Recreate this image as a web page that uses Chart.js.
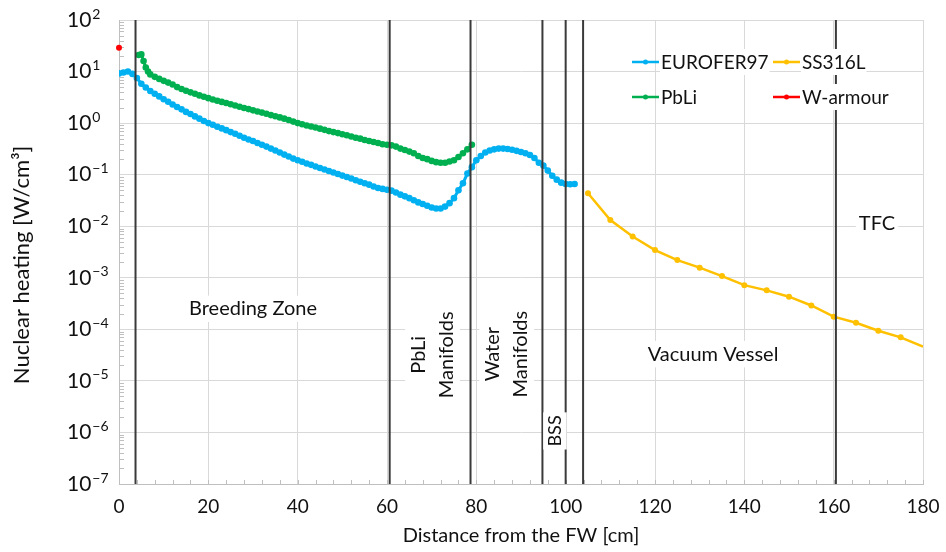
<!DOCTYPE html>
<html>
<head>
<meta charset="utf-8">
<script src="https://cdn.jsdelivr.net/npm/chart.js@4.4.1/dist/chart.umd.min.js"></script>
<style>
  html, body { margin: 0; padding: 0; background: #fff; }
  #wrap { width: 946px; height: 552px; }
</style>
</head>
<body>
<div id="wrap"><canvas id="heatChart"></canvas></div>
<script>
// EUROFER97 (distance [cm], heating [W/cm3])
const eurX = [
  0, 1, 2, 3, 4, 5, 6, 7, 8, 9,
  10, 11, 12, 13, 14, 15, 16, 17, 18, 19,
  20, 21, 22, 23, 24, 25, 26, 27, 28, 29,
  30, 31, 32, 33, 34, 35, 36, 37, 38, 39,
  40, 41, 42, 43, 44, 45, 46, 47, 48, 49,
  50, 51, 52, 53, 54, 55, 56, 57, 58, 59,
  60, 61, 62, 63, 64, 65, 66, 67, 68, 69,
  70, 71, 72, 73, 74, 75, 76, 77, 78, 79,
  80, 81, 82, 83, 84, 85, 86, 87, 88, 89,
  90, 91, 92, 93, 94, 95, 96, 97, 98, 99,
  100, 101, 102
];
const eurY = [
  9.2, 9.6, 10, 9.0, 7.5, 5.8, 4.9, 4.2, 3.7, 3.3,
  2.9, 2.6, 2.3, 2.05, 1.85, 1.65, 1.5, 1.35, 1.22, 1.1,
  1.0, 0.93, 0.85, 0.79, 0.73, 0.67, 0.62, 0.57, 0.52, 0.48,
  0.45, 0.41, 0.38, 0.35, 0.32, 0.295, 0.27, 0.245, 0.225, 0.205,
  0.19, 0.178, 0.165, 0.155, 0.144, 0.135, 0.126, 0.118, 0.11, 0.103,
  0.096, 0.09, 0.084, 0.078, 0.073, 0.068, 0.064, 0.059, 0.055, 0.053,
  0.051, 0.049, 0.045, 0.041, 0.038, 0.035, 0.032, 0.029, 0.027, 0.025,
  0.023, 0.022, 0.022, 0.024, 0.028, 0.035, 0.05, 0.068, 0.105, 0.14,
  0.19, 0.23, 0.27, 0.295, 0.31, 0.32, 0.32, 0.315, 0.305, 0.29,
  0.275, 0.26, 0.24, 0.21, 0.17, 0.15, 0.12, 0.095, 0.08, 0.07,
  0.066, 0.065, 0.066
];

// PbLi
const pbX = [
  4.4, 5, 5.5, 6, 6.5, 7, 8, 9, 10,
  11, 12, 13, 14, 15, 16, 17, 18, 19, 20,
  21, 22, 23, 24, 25, 26, 27, 28, 29, 30,
  31, 32, 33, 34, 35, 36, 37, 38, 39, 40,
  41, 42, 43, 44, 45, 46, 47, 48, 49, 50,
  51, 52, 53, 54, 55, 56, 57, 58, 59, 60,
  61, 62, 63, 64, 65, 66, 67, 68, 69, 70,
  71, 72, 73, 74, 75, 76, 77, 78, 79
];
const pbY = [
  20.9, 21.5, 16, 12, 10, 8.8, 7.9, 7.2, 6.6,
  6.1, 5.6, 5.0, 4.6, 4.25, 3.95, 3.7, 3.45, 3.25, 3.05,
  2.88, 2.72, 2.58, 2.45, 2.32, 2.2, 2.08, 1.97, 1.87, 1.77,
  1.68, 1.6, 1.52, 1.43, 1.36, 1.29, 1.22, 1.15, 1.07, 1.0,
  0.95, 0.9, 0.86, 0.82, 0.78, 0.74, 0.7, 0.67, 0.64, 0.61,
  0.58, 0.55, 0.52, 0.5, 0.47, 0.45, 0.43, 0.41, 0.39, 0.38,
  0.37, 0.35, 0.32, 0.3, 0.28, 0.26, 0.23, 0.21, 0.2, 0.185,
  0.175, 0.17, 0.17, 0.18, 0.19, 0.22, 0.26, 0.31, 0.38
];

// SS316L
const ssX = [105, 110, 115, 120, 125, 130, 135, 140, 145, 150, 155, 160, 165, 170, 175, 180];
const ssY = [0.0435, 0.0132, 0.0063, 0.00345, 0.0022, 0.00157, 0.00108, 0.00072,
             0.00057, 0.00043, 0.00029, 0.000176, 0.000134, 0.000094, 0.00007, 0.000046];

// W-armour
const wX = [0];
const wY = [29];

// axis ticks
const xTicks = [0, 20, 40, 60, 80, 100, 120, 140, 160, 180];
const yExponents = [2, 1, 0, -1, -2, -3, -4, -5, -6, -7];

// region boundaries [cm]
const boundaries = [3.7, 60.6, 78.7, 94.8, 100, 103.9, 160.5];

const FONT = "Lato, 'Open Sans', sans-serif";
const TEXT = '#111';

const zip = (xs, ys) => xs.map((x, i) => ({ x: x, y: ys[i] }));

// region labels: data position, rotation
const regionLabels = [
  { lines: ['Breeding Zone'], x: 30, y: 2.5e-4, rot: false, size: 20 },
  { lines: ['PbLi', 'Manifolds'], x: 70.2, y: 3.2e-5, rot: true, size: 20 },
  { lines: ['Water', 'Manifolds'], x: 86.8, y: 3.3e-5, rot: true, size: 20 },
  { lines: ['BSS'], x: 97.6, y: 1.07e-6, rot: true, size: 18 },
  { lines: ['Vacuum Vessel'], x: 133, y: 3.3e-5, rot: false, size: 20 },
  { lines: ['TFC'], x: 169.7, y: 0.0115, rot: false, size: 20 }
];

const decorations = {
  id: 'decorations',
  beforeDatasetsDraw(chart) {
    const { ctx, chartArea: a, scales: { x, y } } = chart;
    ctx.save();
    ctx.strokeStyle = '#bfbfbf';
    ctx.lineWidth = 1;
    // minor log ticks on the y axis
    for (let e = -7; e < 2; e++) {
      for (let m = 2; m <= 9; m++) {
        const py = Math.round(y.getPixelForValue(m * Math.pow(10, e))) + 0.5;
        ctx.beginPath();
        ctx.moveTo(a.left, py);
        ctx.lineTo(a.left + 5, py);
        ctx.stroke();
      }
    }
    // minor ticks on the x axis, every 4 cm
    for (let v = 0; v <= 180; v += 4) {
      const px = Math.round(x.getPixelForValue(v)) + 0.5;
      ctx.beginPath();
      ctx.moveTo(px, a.bottom);
      ctx.lineTo(px, a.bottom - 4);
      ctx.stroke();
    }
    ctx.restore();
  },
  afterDatasetsDraw(chart) {
    const { ctx, chartArea: a, scales: { x, y } } = chart;
    ctx.save();

    // boundary lines
    ctx.strokeStyle = '#3a3a3a';
    ctx.lineWidth = 2;
    boundaries.forEach(b => {
      const px = x.getPixelForValue(b);
      ctx.beginPath();
      ctx.moveTo(px, a.top);
      ctx.lineTo(px, a.bottom);
      ctx.stroke();
    });

    // region labels
    ctx.fillStyle = TEXT;
    regionLabels.forEach(l => {
      ctx.font = l.size + 'px ' + FONT;
      const cx = x.getPixelForValue(l.x);
      const cy = y.getPixelForValue(l.y);
      const lh = l.size * 1.42;
      const w = Math.max(...l.lines.map(s => ctx.measureText(s).width));
      const h = lh * l.lines.length;
      ctx.save();
      ctx.translate(cx, cy);
      if (l.rot) ctx.rotate(-Math.PI / 2);
      ctx.fillStyle = '#fff';
      ctx.fillRect(-w / 2 - 3, -h / 2 + 1, w + 6, h - 2);
      ctx.fillStyle = TEXT;
      ctx.textAlign = 'center';
      ctx.textBaseline = 'middle';
      l.lines.forEach((s, i) => {
        ctx.fillText(s, 0, -h / 2 + lh * (i + 0.5));
      });
      ctx.restore();
    });

    // legend
    const items = [
      { ds: 0, lx: 632, ly: 62 },
      { ds: 2, lx: 773, ly: 62 },
      { ds: 1, lx: 632, ly: 97 },
      { ds: 3, lx: 773, ly: 97 }
    ];
    ctx.font = '19px ' + FONT;
    ctx.textBaseline = 'middle';
    ctx.textAlign = 'left';
    items.forEach(it => {
      const ds = chart.data.datasets[it.ds];
      const tw = ctx.measureText(ds.label).width;
      ctx.fillStyle = '#fff';
      ctx.fillRect(it.lx + 28, it.ly - 13, tw + 2, 26);
      ctx.strokeStyle = ds.borderColor;
      ctx.lineWidth = 2.5;
      ctx.beginPath();
      ctx.moveTo(it.lx, it.ly);
      ctx.lineTo(it.lx + 27, it.ly);
      ctx.stroke();
      ctx.fillStyle = ds.borderColor;
      ctx.beginPath();
      ctx.arc(it.lx + 13.5, it.ly, 2.5, 0, Math.PI * 2);
      ctx.fill();
      ctx.fillStyle = TEXT;
      ctx.fillText(ds.label, it.lx + 29, it.ly + 1);
    });

    // y tick labels as powers of ten
    yExponents.forEach(e => {
      const py = y.getPixelForValue(Math.pow(10, e));
      ctx.fillStyle = TEXT;
      ctx.font = '21px ' + FONT;
      ctx.textAlign = 'left';
      ctx.textBaseline = 'middle';
      ctx.fillText('10', 67, py);
      const w10 = ctx.measureText('10').width;
      ctx.font = '14px ' + FONT;
      ctx.fillText(e < 0 ? '\u2212' + (-e) : String(e), 67 + w10 + 1, py - 6);
    });

    // y axis title
    ctx.save();
    ctx.translate(22, 265);
    ctx.rotate(-Math.PI / 2);
    ctx.font = '22px ' + FONT;
    ctx.textAlign = 'center';
    ctx.textBaseline = 'middle';
    ctx.fillStyle = TEXT;
    ctx.fillText('Nuclear heating [W/cm\u00b3]', 0, 0);
    ctx.restore();

    ctx.restore();
  }
};

const ctx = document.getElementById('heatChart').getContext('2d');
new Chart(ctx, {
  type: 'line',
  data: {
    datasets: [
      {
        label: 'EUROFER97',
        data: zip(eurX, eurY),
        borderColor: '#00b0f0',
        backgroundColor: '#00b0f0',
        borderWidth: 3,
        pointRadius: 3.3,
        pointBorderWidth: 0,
        pointHoverRadius: 3.3
      },
      {
        label: 'PbLi',
        data: zip(pbX, pbY),
        borderColor: '#00b050',
        backgroundColor: '#00b050',
        borderWidth: 3,
        pointRadius: 3.3,
        pointBorderWidth: 0,
        pointHoverRadius: 3.3
      },
      {
        label: 'SS316L',
        data: zip(ssX, ssY),
        borderColor: '#ffc000',
        backgroundColor: '#ffc000',
        borderWidth: 2.5,
        pointRadius: ssX.map(v => (v === 180 ? 0 : 3)),
        pointBorderWidth: 0,
        pointHoverRadius: 3
      },
      {
        label: 'W-armour',
        data: zip(wX, wY),
        borderColor: '#ff0000',
        backgroundColor: '#ff0000',
        borderWidth: 2,
        pointRadius: 3,
        pointBorderWidth: 0,
        clip: false
      }
    ]
  },
  options: {
    responsive: true,
    maintainAspectRatio: false,
    animation: false,
    layout: { padding: { top: 20, right: 23, left: 0, bottom: 0 } },
    plugins: {
      legend: { display: false },
      tooltip: { enabled: false }
    },
    scales: {
      x: {
        type: 'linear',
        min: 0,
        max: 180,
        afterBuildTicks: axis => { axis.ticks = xTicks.map(v => ({ value: v })); },
        afterFit: s => { s.height = 68; s.paddingLeft = 0; s.paddingRight = 0; },
        grid: { color: '#d9d9d9', drawTicks: false },
        border: { color: '#bfbfbf' },
        ticks: { padding: 11, color: TEXT, font: { family: FONT, size: 19 }, maxRotation: 0 },
        title: {
          display: true,
          text: 'Distance from the FW [cm]',
          color: TEXT,
          font: { family: FONT, size: 20 },
          padding: { top: 1 }
        }
      },
      y: {
        type: 'logarithmic',
        min: 1e-7,
        max: 100,
        afterBuildTicks: axis => { axis.ticks = yExponents.map(e => ({ value: Math.pow(10, e) })); },
        afterFit: s => { s.width = 119; s.paddingTop = 0; s.paddingBottom = 0; },
        grid: { color: '#d9d9d9', drawTicks: false },
        border: { color: '#bfbfbf' },
        ticks: { callback: () => '' }
      }
    }
  },
  plugins: [decorations]
});
</script>
</body>
</html>
